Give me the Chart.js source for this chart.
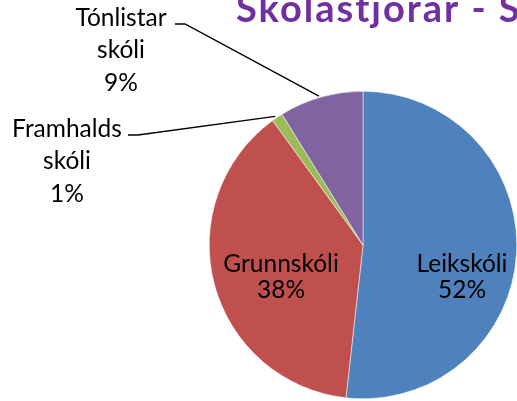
<!DOCTYPE html>
<html>
<head>
<meta charset="utf-8">
<script src="https://cdn.jsdelivr.net/npm/chart.js@4/dist/chart.umd.min.js"></script>
<style>
  html, body { margin: 0; padding: 0; background: #fff; overflow: hidden; }
  #wrap { width: 517px; height: 401px; position: relative; }
</style>
</head>
<body>
<div id="wrap"><canvas id="chart-1" width="517" height="401"></canvas></div>
<script>
  const schoolLabels = ['Leikskóli', 'Grunnskóli', 'Framhaldsskóli', 'Tónlistarskóli'];
  const labelLines = [
    ['Leikskóli'],
    ['Grunnskóli'],
    ['Framhalds', 'skóli'],
    ['Tónlistar', 'skóli'],
  ];
  const headCounts = [88, 65, 2, 15];
  const sliceColors = ['#4F81BD', '#C0504D', '#9BBB59', '#8064A2'];
  const chartTitle = 'Skólastjórar - Skólastig';

  const FONT = 'Lato, "Open Sans", sans-serif';

  // title + data labels drawn on top of the pie
  const labelPlugin = {
    id: 'pieLabels',
    afterDraw(chart) {
      const ctx = chart.ctx;
      const meta = chart.getDatasetMeta(0);
      const total = headCounts.reduce((a, b) => a + b, 0);
      ctx.save();
      ctx.fillStyle = '#7030A0';
      ctx.font = 'bold 38px ' + FONT;
      ctx.letterSpacing = '2px';
      ctx.textAlign = 'left';
      ctx.textBaseline = 'alphabetic';
      ctx.fillText(chartTitle, 236, 22);
      ctx.letterSpacing = '0px';

      ctx.font = '24.5px ' + FONT;
      ctx.fillStyle = '#000';
      ctx.textAlign = 'center';
      ctx.textBaseline = 'middle';
      const insideDx = [99, -82];
      meta.data.forEach((arc, i) => {
        const pct = Math.round(headCounts[i] / total * 100) + '%';
        const mid = (arc.startAngle + arc.endAngle) / 2;
        const cx = arc.x, cy = arc.y, R = arc.outerRadius;
        const lines = labelLines[i].concat([pct]);
        if (i < 2) {
          // inside labels
          const px = cx + insideDx[i];
          const py = cy + 32;
          lines.forEach((t, k) => ctx.fillText(t, px, py - 12.5 + k * 25.5));
        } else {
          // outside labels with leader lines
          const ax = cx + Math.cos(mid) * R;
          const ay = cy + Math.sin(mid) * R;
          const lab = i === 3 ? { x: 121, y: 18, lx: 175, ly: 24 } : { x: 67, y: 129, lx: 128, ly: 135 };
          ctx.strokeStyle = '#000';
          ctx.lineWidth = 1.4;
          ctx.beginPath();
          ctx.moveTo(lab.lx, lab.ly);
          ctx.lineTo(lab.lx + 10, lab.ly);
          ctx.lineTo(ax - 2, ay - 1);
          ctx.stroke();
          lines.forEach((t, k) => ctx.fillText(t, lab.x, lab.y + k * 32.5));
        }
      });
      ctx.restore();
    }
  };

  const pieData = {
    labels: schoolLabels,
    datasets: [{
      data: headCounts,
      backgroundColor: sliceColors,
      borderColor: '#fff',
      borderWidth: 0.5
    }]
  };

  const pieConfig = {
    type: 'pie',
    data: pieData,
    options: {
      responsive: false,
      animation: false,
      layout: { padding: { top: 91, bottom: 2, left: 209, right: 0 } },
      plugins: {
        legend: { display: false },
        tooltip: { enabled: false },
        title: { display: false }
      }
    },
    plugins: [labelPlugin]
  };

  const chart1 = new Chart(document.getElementById('chart-1'), pieConfig);
</script>
</body>
</html>
